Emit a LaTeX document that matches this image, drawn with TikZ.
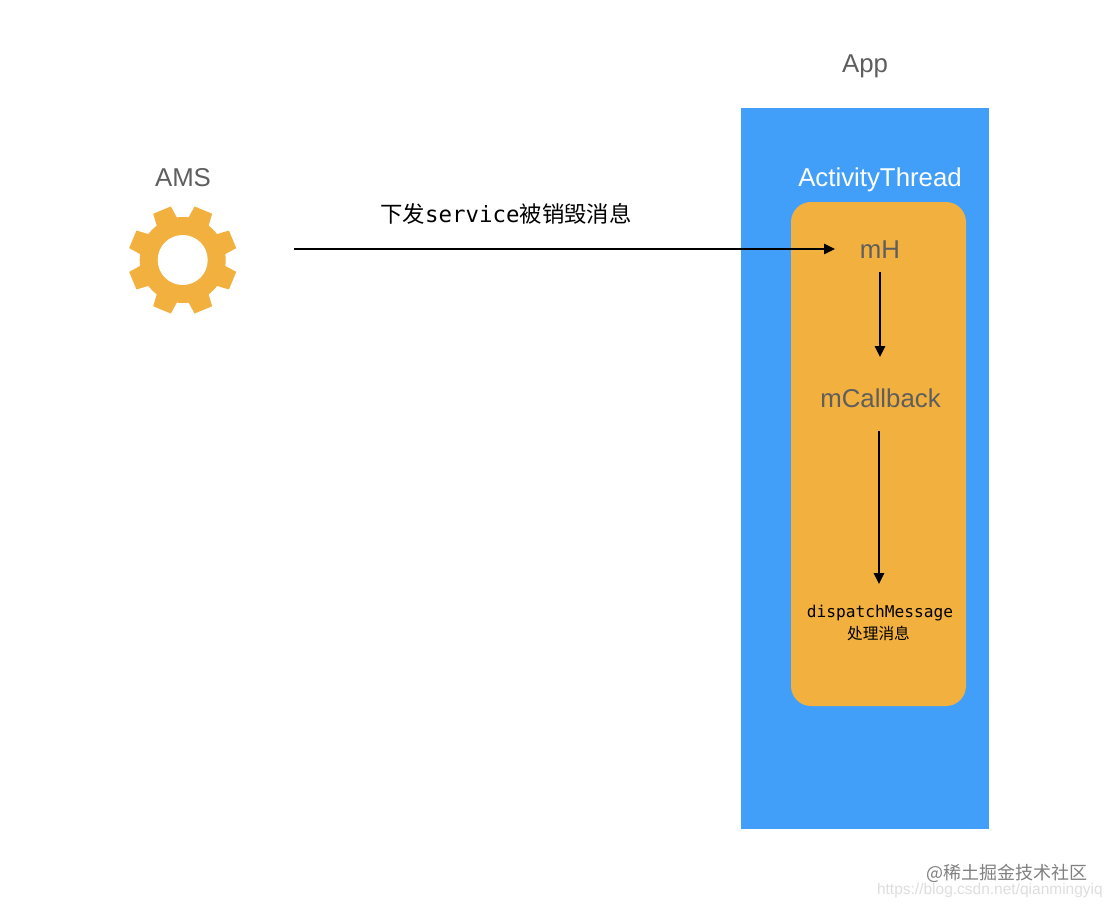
\documentclass[tikz,border=0pt]{standalone}
\usepackage{fontspec}
\setmainfont{Liberation Sans}
\newfontfamily\cjkfont{Noto Sans CJK SC}
\newfontfamily\monofont{DejaVu Sans Mono}
\usetikzlibrary{arrows.meta}
\definecolor{blueback}{HTML}{429FF9}
\definecolor{orangeback}{HTML}{F2B03E}
\definecolor{greytext}{HTML}{5E5E5E}
\tikzset{
  flow/.style={draw=black,line width=1.6pt,-{Triangle[length=11pt,width=10.5pt]}},
  title/.style={inner sep=0pt,text=greytext,font=\fontsize{25.8}{28}\selectfont},
  inner/.style={inner sep=0pt,text=#1,font=\fontsize{25.8}{28}\selectfont},
  inner/.default=greytext,
}
\newcommand{\mono}[1]{{\monofont #1}}
\newcommand{\cjk}[1]{{\cjkfont #1}}
\begin{document}
\begin{tikzpicture}[x=1pt,y=-1pt]
\useasboundingbox (0,0) rectangle (1112,908);
\fill[white] (0,0) rectangle (1112,908);
\fill[blueback] (741,108) rectangle (989,829);
\fill[orangeback,rounded corners=20pt] (791,202) rectangle (966,706);
% gear
\foreach \k in {0,...,7}{
  \fill[orangeback,shift={(182.7,260)},rotate=22.5+45*\k]
    (40,-11) -- (54,-9.5) -- (54,9.5) -- (40,11) -- cycle;
}
\fill[orangeback] (182.7,260) circle[radius=43pt];
\fill[white] (182.7,260) circle[radius=25pt];
\node[title] (ams) at (183,178) {AMS};
\coordinate (gearout) at (294,249);
\node[title] (app) at (865,66) {App};
\node[inner=white] (thread) at (880,180) {ActivityThread};
\node[inner] (mh) at (880,250) {mH};
\node[inner] (mcb) at (880.5,398) {mCallback};
\node[inner sep=0pt,text=black,font=\monofont\fontsize{16.2}{21}\selectfont] (dm) at (880,613.5) {dispatchMessage};
\node[inner sep=0pt,text=black,font=\cjkfont\fontsize{15.7}{21}\selectfont] (dmb) at (878.5,633) {处理消息};
\node[inner sep=0pt,text=black,font=\fontsize{22.4}{26}\selectfont] (msg) at (506,214) {\cjk{下发}\mono{service}\cjk{被销毁消息}};
\draw[flow] (gearout) -- (835,249);
\coordinate (a1) at (880,272);
\coordinate (a2) at (880,357);
\coordinate (b1) at (879,431);
\coordinate (b2) at (879,584);
\draw[flow] (a1) -- (a2);
\draw[flow] (b1) -- (b2);
\node[inner sep=0pt,anchor=east,text=black!50,font=\cjkfont\fontsize{18}{22}\selectfont] (wm) at (1088,873) {@稀土掘金技术社区};
\node[inner sep=0pt,anchor=east,text=black!13,font=\fontsize{15.5}{18}\selectfont] (url) at (1103,890) {https://blog.csdn.net/qianmingyiq};
\end{tikzpicture}
\end{document}
